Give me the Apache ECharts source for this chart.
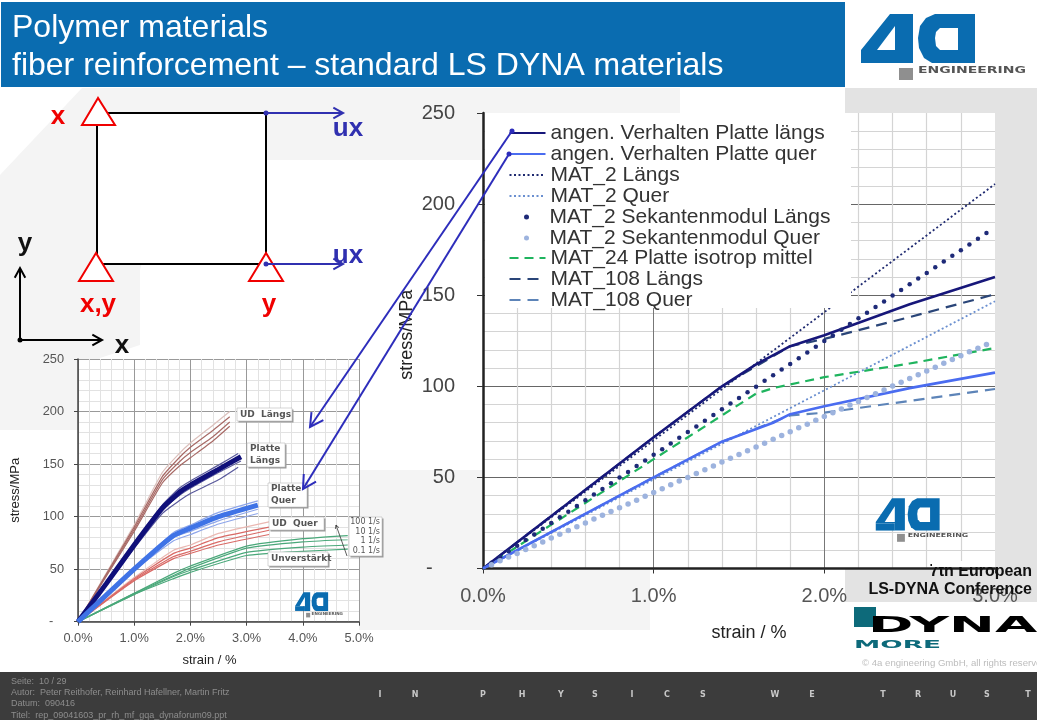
<!DOCTYPE html>
<html><head><meta charset="utf-8">
<script src="https://cdn.jsdelivr.net/npm/echarts@6/dist/echarts.min.js"></script>
<style>html,body{margin:0;padding:0;background:#fff}#c{width:1037px;height:720px}</style>
</head><body><div id="c"></div>
<script>
// ---------- main chart data (strain %, stress MPa)
const angenLaengs=[[0,0],[0.5,36],[1,72],[1.4,100],[1.6,112],[1.8,122],[2,128],[2.5,145],[3,160]];
const angenQuer=[[0,0],[0.5,25],[1,50],[1.4,69.6],[1.7,80],[1.8,84.7],[2,89],[2.5,99],[3,107.5]];
const mat2Laengs=[[0,0],[3,211]];
const mat2Quer=[[0,0],[3,146.7]];
const sekStrain=[0.05,0.1,0.15,0.2,0.25,0.3,0.35,0.4,0.45,0.5,0.55,0.6,0.65,0.7,0.75,0.8,0.85,0.9,0.95,1,1.05,1.1,1.15,1.2,1.25,1.3,1.35,1.4,1.45,1.5,1.55,1.6,1.65,1.7,1.75,1.8,1.85,1.9,1.95,2,2.05,2.1,2.15,2.2,2.25,2.3,2.35,2.4,2.45,2.5,2.55,2.6,2.65,2.7,2.75,2.8,2.85,2.9,2.95];
const sekLaengs=[3.1,6.2,9.4,12.5,15.6,18.7,21.8,25,28.1,31.2,34.3,37.4,40.6,43.7,46.8,49.9,53,56.2,59.3,62.4,65.5,68.6,71.8,74.9,78,81.1,84.2,87.4,90.5,93.6,96.7,99.8,103,106.1,109.2,112.3,115.4,118.6,121.7,124.8,127.9,131,134.2,137.3,140.4,143.5,146.6,149.8,152.9,156,159.1,162.2,165.4,168.5,171.6,174.7,177.8,181,184.1];
const sekQuer=[2.1,4.2,6.3,8.3,10.4,12.5,14.6,16.7,18.8,20.9,22.9,25,27.1,29.2,31.3,33.4,35.4,37.5,39.6,41.7,43.8,45.9,48,50,52.1,54.2,56.3,58.4,60.5,62.6,64.6,66.7,68.8,70.9,73,75.1,77.2,79.2,81.3,83.4,85.5,87.6,89.7,91.7,93.8,95.9,98,100.1,102.2,104.3,106.3,108.4,110.5,112.6,114.7,116.8,118.9,120.9,123];
const mat24=[[0,0],[1,60],[1.6,96],[1.7,99],[2,105],[2.5,112.5],[3,121]];
const mat108Laengs=[[0,0],[1,72],[1.4,100],[1.8,122],[2,126],[2.5,138],[3,150.5]];
const mat108Quer=[[0,0],[1,50],[1.4,69.6],[1.8,84],[2,85.5],[2.5,92],[3,98.5]];
const seriesNames=['angen. Verhalten Platte längs','angen. Verhalten Platte quer','MAT_2 Längs','MAT_2 Quer','MAT_2 Sekantenmodul Längs','MAT_2 Sekantenmodul Quer','MAT_24 Platte isotrop mittel','MAT_108 Längs','MAT_108 Quer'];
// ---------- inset data
const udLaengs=[
 [[0,0],[1,92],[1.5,142],[1.8,160],[2,170],[2.4,187],[2.7,200]],
 [[0,0],[1,90],[1.5,138],[1.8,156],[2,166],[2.4,182],[2.7,195]],
 [[0,0],[1,88],[1.5,135],[1.8,152],[2,161],[2.4,176],[2.7,190]],
 [[0,0],[1,86],[1.5,132],[1.8,148],[2,156],[2.4,172],[2.7,186]]];
const platteLaengsThin=[
 [[0,0],[1,74],[1.5,111],[1.8,127],[2,134],[2.5,149],[2.85,160]],
 [[0,0],[1,72],[1.5,106],[1.8,120],[2,127],[2.5,142],[2.9,153]],
 [[0,0],[1,70],[1.5,103],[1.8,115],[2,122],[2.5,135],[2.85,147]]];
const platteLaengs=[[0,0],[0.5,36],[1,73],[1.5,108],[1.8,123],[2,130],[2.5,145],[2.9,157]];
const platteQuerThin=[
 [[0,0],[1,51],[1.7,85],[2,92],[2.5,104],[3.2,115]],
 [[0,0],[1,50],[1.7,80],[2,86],[2.5,96],[3.2,107]],
 [[0,0],[1,49],[1.7,77],[2,83],[2.5,93],[3.2,103]]];
const platteQuer=[[0,0],[1,50],[1.7,82],[2,89],[2.5,100],[3.2,111]];
const udQuer=[
 [[0,0],[1,42],[1.7,68],[2,73],[2.5,84],[3.4,95]],
 [[0,0],[1,41],[1.7,65],[2,70],[2.5,80],[3.4,90]],
 [[0,0],[1,40],[1.7,62],[2,67],[2.5,76],[3.4,87]],
 [[0,0],[1,39],[1.7,60],[2,65],[2.5,73],[3.4,83]]];
const unverstaerkt=[
 [[0,0],[1,27],[1.7,46],[2,53],[3,72],[4,79],[4.8,82]],
 [[0,0],[1,27],[1.7,44],[2,51],[3,70],[4,76],[4.8,78]],
 [[0,0],[1,26],[1.7,43],[2,49],[3,66],[4,71],[4.8,73]],
 [[0,0],[1,26],[1.7,41],[2,47],[3,63],[4,67],[4.8,69]]];
const rateLabels=['100 1/s','10 1/s','1 1/s','0.1 1/s'];
const footerLines=['Seite:  10 / 29','Autor:  Peter Reithofer, Reinhard Hafellner, Martin Fritz','Datum:  090416','Titel:  rep_09041603_pr_rh_mf_gqa_dynaforum09.ppt'];
const mottoLetters=['I','N','P','H','Y','S','I','C','S','W','E','T','R','U','S','T'];
const mottoX=[380,415,483,522,561,595,632,667,703,775,812,883,918,953,987,1028];

const F='"Liberation Sans",Arial,sans-serif';
const WHITE='#fff', BG='#f4f4f4', GREY='#e3e3e3', BLUE='#2d2dbb', RED='#f00000', HEAD='#0a6cb0';
function T(text,x,y,font,fill,align,z,sx,sy){return {type:'text',x,y,z:z||50,scaleX:sx||1,scaleY:sy||1,silent:true,
  style:{text,fill,font,textAlign:align||'left',align:align||'left',textVerticalAlign:'middle',verticalAlign:'middle'}};}
function R(x,y,w,h,fill,z,stroke,lw){return {type:'rect',z:z,silent:true,shape:{x,y,width:w,height:h},style:{fill,stroke:stroke||null,lineWidth:lw||0}};}
function P(points,fill,z,stroke,lw){return {type:'polygon',z,silent:true,shape:{points},style:{fill,stroke:stroke||null,lineWidth:lw||0}};}
function L(points,color,lw,z){return {type:'polyline',z:z||50,silent:true,shape:{points},style:{stroke:color,lineWidth:lw,fill:null}};}
function D(x,y,r,color,z){return {type:'circle',z:z||50,silent:true,shape:{cx:x,cy:y,r},style:{fill:color}};}
function arrow(x0,y0,x1,y1,color,lw,hl,z){
  const a=Math.atan2(y1-y0,x1-x0),s=0.5;
  return [L([[x0,y0],[x1,y1]],color,lw,z),
          L([[x1-hl*Math.cos(a-s),y1-hl*Math.sin(a-s)],[x1,y1],[x1-hl*Math.cos(a+s),y1-hl*Math.sin(a+s)]],color,lw,z)];
}
function logo(x,y,sx,sy,z){
  const kid=(type,shape,fill,zz)=>({type,z:zz,shape,style:{fill}});
  return {type:'group',x,y,scaleX:sx,scaleY:sy,silent:true,children:[
    kid('polygon',{points:[[50,14],[73,14],[73,63],[55,63],[55,52],[21,52],[21,50]]},HEAD,z),
    {type:'polygon',z:z,shape:{points:[[21,52],[55,52],[55,63],[21,63]]},style:{fill:HEAD}},
    kid('polygon',{points:[[55,26],[55,50],[37,50]]},'#fff',z+1),
    kid('polygon',{points:[[95,14],[135,14],[135,63],[92,63],[84,58],[79,48],[78,38],[80,26],[86,18]]},HEAD,z),
    kid('polygon',{points:[[118,28],[118,50],[100,50],[96,46],[95,38],[96,32],[100,28]]},'#fff',z+1),
    {type:'rect',z:z,shape:{x:59,y:68,width:14,height:12},style:{fill:'#8f8f8f'}},
    {type:'text',z:z,x:78,y:71,scaleX:1.75,style:{text:'ENGINEERING',fill:'#555',font:'bold 8px "DejaVu Sans"',textVerticalAlign:'middle',verticalAlign:'middle'}}
  ]};
}
function box(x,y,w,h,lines,font,align){
  const out=[R(x+1.5,y+1.5,w,h,'#999',30),R(x,y,w,h,WHITE,31,'#bbb',0.6)];
  const lh=h/lines.length;
  lines.forEach((t,i)=>out.push(T(t,align==='right'?x+w-2:x+3,y+lh*(i+.5),font,'#555',align||'left',32)));
  return out;
}
const g=[];
// page background
g.push(P([[82,88],[680,88],[680,160],[270,160],[200,165],[160,190],[140,270],[140,345],[100,358],[80,430],[30,430],[0,430],[0,175]],BG,-20));
g.push(P([[359,470],[482,470],[482,570],[650,570],[650,630],[359,630]],BG,-20));
g.push(R(845,88,192,514,GREY,-15));
// header
g.push(R(1,2,844,85,HEAD,40));
g.push(T('Polymer materials',12,28,'32px '+F,'#fff','left',41));
g.push(T('fiber reinforcement – standard LS DYNA materials',12,66,'32px '+F,'#fff','left',41));
g.push(logo(840,0,1,1,41));
// legend cover in main plot
g.push(R(485,113,366,195,'#fff',3));
// constraint diagram
g.push(R(97,113,169,151,'#fff',20,'#000',2));
[[[98,98],[82,125],[115,125]],[[96,253],[79,281],[113,281]],[[266,253],[249,281],[283,281]]].forEach(p=>g.push(P(p,'#fff',21,RED,2)));
g.push(T('x',58,117,'bold 26px '+F,RED,'center'));
g.push(T('x,y',98,305,'bold 26px '+F,RED,'center'));
g.push(T('y',269,305,'bold 26px '+F,RED,'center'));
g.push(...arrow(266,113,343,113,'#3030b0',2,11,22),D(266,113,2.5,'#3030b0',22));
g.push(...arrow(266,264,343,264,'#3030b0',2,11,22),D(266,264,2.5,'#3030b0',22));
g.push(T('ux',348,129,'bold 26px '+F,'#3030b0','center'));
g.push(T('ux',348,256,'bold 26px '+F,'#3030b0','center'));
g.push(T('y',25,244,'bold 26px '+F,'#111','center'));
g.push(T('x',122,346,'bold 26px '+F,'#111','center'));
g.push(...arrow(20,340,20,268,'#000',2,11,22),...arrow(20,340,102,340,'#000',2,11,22),D(20,340,2.5,'#000',22));
// inset labels
const lf='bold 9px "DejaVu Sans"';
g.push(...box(237,408,55,13,['UD  Längs'],lf));
g.push(...box(247,443,38,24,['Platte','Längs'],lf));
g.push(...box(268,483,39,24,['Platte','Quer'],lf));
g.push(...box(269,517,55,13,['UD  Quer'],lf));
g.push(...box(268,552,60,14,['Unverstärkt'],lf));
g.push(...box(349,517,33,39,rateLabels,'8px "DejaVu Sans"','right'));
g.push(...arrow(347,556,336,525,'#333',0.8,4,33));
g.push(logo(289,587,0.29,0.38,33));
// blue arrows from legend
g.push(...arrow(512,131,310,427,BLUE,2,15,60),D(512,131,2.5,BLUE,60));
g.push(...arrow(509,154,303,489,BLUE,2,15,60),D(509,154,2.5,BLUE,60));
// main plot logo and conference block
g.push(R(853,602,184,60,'#fff',45));
g.push(R(0,672,1037,48,'#3c3c3c',40));
g.push(logo(864,489,0.56,0.66,46));
g.push(T('7th European',1032,572,'bold 16px '+F,'#111','right',47));
g.push(T('LS-DYNA Conference',1032,590,'bold 16px '+F,'#111','right',47));
g.push(R(932,561,63,6,'#fff',48));
g.push(R(995,561,42,6,GREY,48));
g.push(R(854,607,22,20,'#0d6a7a',46));
g.push(T('DYNA',868,626,'bold 23px "DejaVu Sans"','#000','left',47,2.38,0.95));
g.push(T('MORE',854,645,'bold 11px "DejaVu Sans"','#0d6a7a','left',47,2.4,0.9));
g.push(T('© 4a engineering GmbH, all rights reserved',862,663,'9.6px '+F,'#bdbdbd','left',47));
// footer
footerLines.forEach((t,i)=>g.push(T(t,11,[682,693,704,716][i],'9px '+F,'#8d8d8d','left',41)));
mottoLetters.forEach((c,i)=>g.push(T(c,mottoX[i],695,'bold 8px "DejaVu Sans"','#c8c8c8','center',41)));

// series
const lineS=(name,data,color,width,type,extra)=>Object.assign({name,type:'line',data,symbol:'none',showSymbol:false,silent:true,animation:false,
   lineStyle:{color,width,type:type||'solid'},itemStyle:{color},z:2},extra||{});
const thin=(data,color,w)=>({type:'line',data,xAxisIndex:1,yAxisIndex:1,symbol:'none',silent:true,animation:false,smooth:0.15,lineStyle:{color,width:w||1.2},z:2});
const series=[
 lineS(seriesNames[2],mat2Laengs,'#1f2a70',1.8,[2,2.5]),
 lineS(seriesNames[3],mat2Quer,'#6a8fd0',1.8,[2,2.5]),
 {name:seriesNames[4],type:'scatter',data:sekStrain.map((s,i)=>[s,sekLaengs[i]]),symbolSize:4.5,silent:true,animation:false,itemStyle:{color:'#1e2a78',opacity:1},z:2},
 {name:seriesNames[5],type:'scatter',data:sekStrain.map((s,i)=>[s,sekQuer[i]]),symbolSize:5.5,silent:true,animation:false,itemStyle:{color:'#9db3de',opacity:1},z:2},
 lineS(seriesNames[6],mat24,'#1fb45e',2.2,[9,6]),
 lineS(seriesNames[7],mat108Laengs,'#2a4578',2.2,[11,7]),
 lineS(seriesNames[8],mat108Quer,'#5d84b8',2.2,[11,7]),
 lineS(seriesNames[0],angenLaengs,'#17177a',2.6),
 lineS(seriesNames[1],angenQuer,'#4a6cf0',2.6),
];
udLaengs.forEach((d,i)=>series.push(thin(d,i?'#a86a66':'#dcc0bc')));
udQuer.forEach((d,i)=>series.push(thin(d,i?'#d96a66':'#eab8b2')));
unverstaerkt.forEach((d,i)=>series.push(thin(d,'#4aa87a')));
platteLaengsThin.forEach(d=>series.push(thin(d,'#5a5a9c')));
platteQuerThin.forEach(d=>series.push(thin(d,'#8ea6ea')));
series.push(thin(platteLaengs,'#10107a',5));
series.push(thin(platteQuer,'#3f73e6',5));

const legendBase={orient:'vertical',left:508.5,padding:0,itemGap:0,itemWidth:36,
  textStyle:{fontFamily:F,fontSize:21,color:'#333',lineHeight:21},selectedMode:false,z:5};
const noDot={color:'transparent',borderWidth:0,opacity:0};
const option={
 animation:false,backgroundColor:'#fff',
 grid:[{left:483,top:113,width:512,height:455.5,show:true,backgroundColor:'#fff',borderWidth:0},
       {left:78,top:359,width:281,height:262.7,show:true,backgroundColor:'#fff',borderWidth:0}],
 legend:[
  Object.assign({},legendBase,{top:122.5,itemHeight:12,itemStyle:noDot,data:[seriesNames[0],seriesNames[1],seriesNames[2],seriesNames[3]]}),
  Object.assign({},legendBase,{top:206.5,left:524,itemHeight:5,data:[seriesNames[4],seriesNames[5]]}),
  Object.assign({},legendBase,{top:247.5,itemHeight:12,itemStyle:noDot,data:[seriesNames[6],seriesNames[7],seriesNames[8]]})
 ],
 xAxis:[
  {type:'value',gridIndex:0,min:0,max:3,interval:1,name:'strain / %',nameLocation:'middle',nameGap:56,
   nameTextStyle:{fontFamily:F,fontSize:18,color:'#222',padding:[0,0,0,20]},
   axisLine:{show:true,lineStyle:{color:'#222',width:2.5}},axisTick:{show:true,length:5,lineStyle:{color:'#333'}},
   axisLabel:{formatter:v=>v.toFixed(1)+'%',fontFamily:F,fontSize:20,color:'#555',margin:18},
   splitLine:{show:true,showMinLine:false,showMaxLine:false,lineStyle:{color:'#777',width:1}},minorTick:{show:false,splitNumber:5},minorSplitLine:{show:true,lineStyle:{color:'#d4d4d4',width:1.2}}},
  {type:'value',gridIndex:1,min:0,max:5,interval:1,name:'strain / %',nameLocation:'middle',nameGap:32,
   nameTextStyle:{fontFamily:F,fontSize:13,color:'#222',padding:[0,18,0,0]},
   axisLine:{show:true,lineStyle:{color:'#444',width:1.5}},axisTick:{show:true,length:4,lineStyle:{color:'#444'}},
   axisLabel:{formatter:v=>v.toFixed(1)+'%',fontFamily:F,fontSize:12.8,color:'#555',margin:10},
   splitLine:{show:true,lineStyle:{color:'#999',width:1}},minorTick:{show:false,splitNumber:5},minorSplitLine:{show:true,lineStyle:{color:'#e2e2e2',width:1}}}
 ],
 yAxis:[
  {type:'value',gridIndex:0,min:0,max:250,interval:50,name:'stress/MPa',nameLocation:'middle',nameGap:67,
   nameTextStyle:{fontFamily:F,fontSize:18,color:'#222',padding:[0,0,0,12]},
   axisLine:{show:true,lineStyle:{color:'#222',width:2.5}},axisTick:{show:true,length:6,lineStyle:{color:'#333'}},
   axisLabel:{formatter:v=>v===0?'-    ':String(v),fontFamily:F,fontSize:20,color:'#444',margin:28},
   splitLine:{show:true,showMinLine:false,showMaxLine:false,lineStyle:{color:'#666',width:1}},minorTick:{show:false,splitNumber:5},minorSplitLine:{show:true,lineStyle:{color:'#d4d4d4',width:1.2}}},
  {type:'value',gridIndex:1,min:0,max:250,interval:50,name:'stress/MPa',nameLocation:'middle',nameGap:56,
   nameTextStyle:{fontFamily:F,fontSize:13,color:'#222'},
   axisLine:{show:true,lineStyle:{color:'#444',width:1.5}},axisTick:{show:true,length:4,lineStyle:{color:'#444'}},
   axisLabel:{formatter:v=>v===0?'-   ':String(v),fontFamily:F,fontSize:12.8,color:'#555',margin:14},
   splitLine:{show:true,lineStyle:{color:'#999',width:1}},minorTick:{show:false,splitNumber:5},minorSplitLine:{show:true,lineStyle:{color:'#e2e2e2',width:1}}}
 ],
 graphic:{elements:g},
 series
};
const chart=echarts.init(document.getElementById('c'),null,{renderer:'canvas',width:1037,height:720});
chart.setOption(option);
</script></body></html>
